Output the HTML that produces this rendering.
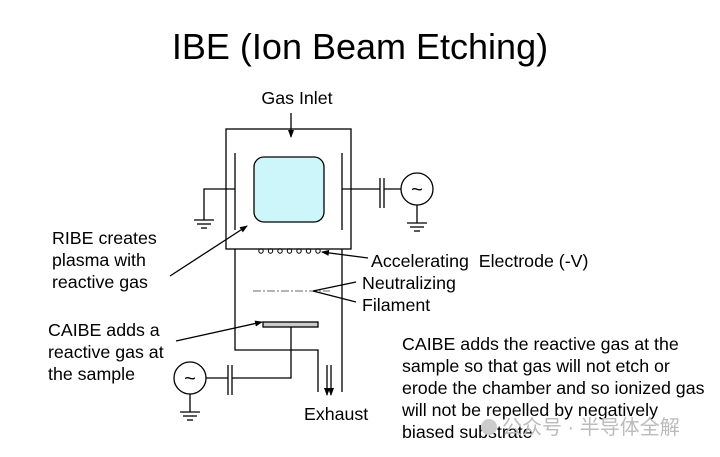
<!DOCTYPE html>
<html><head><style>body{margin:0;background:#fff}svg{display:block}</style></head><body>
<svg width="720" height="457" viewBox="0 0 720 457" xmlns="http://www.w3.org/2000/svg" font-family="Liberation Sans, sans-serif" fill="#000">
<defs><marker id="a" markerWidth="8" markerHeight="8" refX="7" refY="4" orient="auto" markerUnits="userSpaceOnUse"><path d="M0,1 L8,4 L0,7 z" fill="#000"/></marker></defs>
<rect width="720" height="457" fill="#fff"/>
<text x="360" y="59" font-size="36" text-anchor="middle">IBE (Ion Beam Etching)</text>
<text x="297" y="104" font-size="17.8" text-anchor="middle">Gas Inlet</text>
<g stroke="#000" stroke-width="1.3" fill="none">
<line x1="291" y1="113" x2="291" y2="137" marker-end="url(#a)"/>
<rect x="226" y="129" width="125" height="120"/>
<line x1="235" y1="153" x2="235" y2="230"/>
<line x1="342" y1="153" x2="342" y2="230"/>
<rect x="254" y="157" width="70" height="65" rx="10" fill="#cdf6fa"/>
<polyline points="235,189 204,189 204,220"/>
<line x1="194" y1="220" x2="214" y2="220"/><line x1="197" y1="224" x2="211" y2="224"/><line x1="201" y1="228" x2="207" y2="228"/>
<line x1="342" y1="189" x2="380" y2="189"/>
<line x1="380" y1="178" x2="380" y2="208"/><line x1="384" y1="178" x2="384" y2="208"/>
<line x1="384" y1="189" x2="401" y2="189"/>
<circle cx="417" cy="189" r="16"/>
<line x1="417" y1="205" x2="417" y2="223"/>
<line x1="407" y1="223" x2="427" y2="223"/><line x1="410" y1="227" x2="424" y2="227"/><line x1="414" y1="231" x2="420" y2="231"/>
<polyline points="235,249 235,350 318,350 318,392"/>
<line x1="342" y1="249" x2="342" y2="392"/>
<line x1="327" y1="365" x2="327" y2="395" marker-end="url(#a)"/>
<line x1="331" y1="365" x2="331" y2="395" marker-end="url(#a)"/>
<g stroke-width="1"><circle cx="261" cy="251" r="2.2"/><circle cx="270.5" cy="251" r="2.2"/><circle cx="280" cy="251" r="2.2"/><circle cx="289.5" cy="251" r="2.2"/><circle cx="299" cy="251" r="2.2"/><circle cx="308.5" cy="251" r="2.2"/><circle cx="318" cy="251" r="2.2"/></g>
<line x1="368" y1="258" x2="322" y2="252" marker-end="url(#a)"/>
<line x1="253" y1="291" x2="330" y2="291" stroke="#888" stroke-dasharray="8,2,2,2"/>
<line x1="313" y1="291" x2="356" y2="282"/>
<line x1="313" y1="291" x2="356" y2="302"/>
<line x1="170" y1="276" x2="247" y2="226" marker-end="url(#a)"/>
<line x1="176" y1="341" x2="262" y2="322" marker-end="url(#a)"/>
<rect x="263" y="322" width="55" height="5" fill="#ccc"/>
<polyline points="291,327 291,378 232,378"/>
<line x1="228" y1="365" x2="228" y2="395"/><line x1="232" y1="365" x2="232" y2="395"/>
<line x1="228" y1="378" x2="206" y2="378"/>
<circle cx="190" cy="378" r="16"/>
<line x1="190" y1="394" x2="190" y2="412"/>
<line x1="180" y1="412" x2="200" y2="412"/><line x1="183" y1="416" x2="197" y2="416"/><line x1="187" y1="420" x2="193" y2="420"/>
</g>
<text x="417" y="196" font-size="20" text-anchor="middle">~</text>
<text x="190" y="385" font-size="20" text-anchor="middle">~</text>
<g font-size="17.8">
<text x="52" y="244">RIBE creates</text><text x="52" y="266">plasma with</text><text x="52" y="288">reactive gas</text>
<text x="48" y="336">CAIBE adds a</text><text x="48" y="358">reactive gas at</text><text x="48" y="380">the sample</text>
<text x="371" y="267">Accelerating&#160; Electrode (-V)</text>
<text x="362" y="289">Neutralizing</text><text x="362" y="311">Filament</text>
<text x="304" y="420">Exhaust</text>
<text x="402" y="350">CAIBE adds the reactive gas at the</text>
<text x="402" y="372">sample so that gas will not etch or</text>
<text x="402" y="394">erode the chamber and so ionized gas</text>
<text x="402" y="416">will not be repelled by negatively</text>
<text x="402" y="438">biased substrate</text>
</g>
<circle cx="489" cy="427" r="8" fill="#ccc"/>
<text x="502" y="434" font-size="20" fill="#bbb" font-family="Liberation Sans, Noto Sans CJK SC, sans-serif">公众号 · 半导体全解</text>
</svg>
</body></html>
